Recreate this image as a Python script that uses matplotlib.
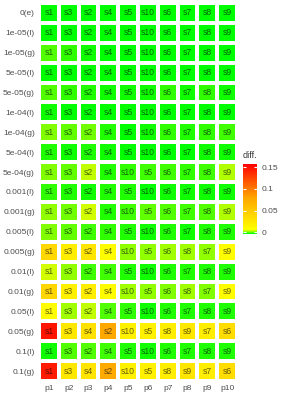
import numpy as np
import matplotlib
matplotlib.use("Agg")
import matplotlib.pyplot as plt
from matplotlib.colors import LinearSegmentedColormap, Normalize

plt.rcParams['font.family'] = ['Liberation Sans', 'DejaVu Sans']

rows = ["0(e)", "1e-05(l)", "1e-05(g)", "5e-05(l)", "5e-05(g)", "1e-04(l)", "1e-04(g)",
        "5e-04(l)", "5e-04(g)", "0.001(l)", "0.001(g)", "0.005(l)", "0.005(g)",
        "0.01(l)", "0.01(g)", "0.05(l)", "0.05(g)", "0.1(l)", "0.1(g)"]
cols = ["p1", "p2", "p3", "p4", "p5", "p6", "p7", "p8", "p9", "p10"]

base = ["s1", "s3", "s2", "s4", "s5", "s10", "s6", "s7", "s8", "s9"]
swap1 = ["s1", "s3", "s2", "s4", "s10", "s5", "s6", "s7", "s8", "s9"]
swap2 = ["s1", "s3", "s2", "s4", "s10", "s5", "s6", "s8", "s7", "s9"]
swap3 = ["s1", "s3", "s4", "s2", "s10", "s5", "s8", "s9", "s7", "s6"]
labels = [base, base, base, base, base, base, base,
          base, swap1, base, swap1, base, swap2,
          base, swap2, base, swap3, base, swap3]

# diff values, one row per setting (p1..p10)
diff = [
    [-0.0038, -0.004, -0.004, -0.004, -0.004, -0.004, -0.004, -0.004, -0.004, -0.004],
    [-0.0037, -0.004, -0.004, -0.004, -0.004, -0.004, -0.004, -0.004, -0.004, -0.004],
    [-0.0007, -0.002, -0.0033, -0.0035, -0.004, -0.004, -0.0037, -0.004, -0.0037, -0.004],
    [-0.0035, -0.004, -0.004, -0.004, -0.004, -0.004, -0.004, -0.004, -0.004, -0.004],
    [-0.0007, -0.002, -0.0027, -0.003, -0.0033, -0.0033, -0.002, -0.003, -0.002, -0.003],
    [-0.0033, -0.0035, -0.0037, -0.004, -0.004, -0.004, -0.004, -0.004, -0.004, -0.004],
    [0.0013, 0.0, 0.0007, -0.0027, -0.0037, -0.003, -0.002, -0.0027, -0.002, -0.0013],
    [-0.0027, -0.003, -0.0027, -0.0033, -0.0037, -0.004, -0.0037, -0.0037, -0.0033, -0.0033],
    [0.0013, 0.0, 0.004, -0.0027, -0.002, -0.0013, -0.0013, -0.002, -0.0013, 0.0033],
    [-0.002, -0.0027, -0.0033, -0.0027, -0.0027, -0.0037, -0.0033, -0.0033, -0.003, -0.003],
    [0.002, 0.0007, 0.0047, -0.0027, -0.0013, 0.0, -0.0007, -0.0013, -0.0007, 0.0033],
    [0.0013, 0.0, -0.0013, -0.002, -0.0027, -0.0033, -0.0027, -0.0033, -0.0027, -0.0027],
    [0.038, 0.020, 0.027, 0.008, 0.002, 0.002, 0.0027, 0.0027, 0.002, 0.007],
    [0.0047, 0.002, -0.0013, -0.0013, -0.0027, -0.0033, -0.0027, -0.0027, -0.0027, -0.0027],
    [0.039, 0.018, 0.020, 0.008, 0.0027, 0.002, 0.0013, 0.0027, 0.0013, 0.007],
    [0.007, 0.0027, 0.004, -0.0007, -0.002, -0.0033, -0.0027, -0.0027, -0.0027, -0.0027],
    [0.147, 0.025, 0.031, 0.077, 0.018, 0.018, 0.020, 0.025, 0.020, 0.034],
    [-0.0033, -0.0007, -0.0007, -0.0013, -0.0027, -0.0033, -0.0027, -0.0027, -0.0027, -0.0027],
    [0.145, 0.025, 0.028, 0.076, 0.018, 0.018, 0.020, 0.027, 0.020, 0.034],
]

vmin, vmax = -0.004, 0.157
nodes = [(-0.004, "#00FF00"), (0.006, "#FFFF00"), (0.08, "#FFA500"), (0.157, "#FF0000")]
cmap = LinearSegmentedColormap.from_list(
    "diff", [((v - vmin) / (vmax - vmin), c) for v, c in nodes])
norm = Normalize(vmin, vmax)

data = np.array(diff)

fig = plt.figure(figsize=(2.83, 3.95), dpi=100)
ax = fig.add_axes([39 / 283, 1 - 381 / 395, 198 / 283, 378 / 395])
ax.pcolormesh(np.arange(len(cols) + 1), np.arange(len(rows) + 1), data,
              cmap=cmap, norm=norm, edgecolors="white", linewidth=1.6)
ax.set_xlim(0, len(cols))
ax.set_ylim(len(rows), 0)

for i, row in enumerate(labels):
    for j, s in enumerate(row):
        ax.text(j + 0.5, i + 0.5, s, ha="center", va="center",
                fontsize=6.2, color="black", alpha=0.6)

ax.set_xticks(np.arange(len(cols)) + 0.5)
ax.set_xticklabels(cols)
ax.set_yticks(np.arange(len(rows)) + 0.5)
ax.set_yticklabels(rows)
ax.tick_params(length=0, labelsize=6, labelcolor="#4D4D4D", pad=3)
for sp in ax.spines.values():
    sp.set_visible(False)

cax = fig.add_axes([243 / 283, 1 - 234 / 395, 14 / 283, 70 / 395])
sm = plt.cm.ScalarMappable(norm=norm, cmap=cmap)
cb = fig.colorbar(sm, cax=cax, ticks=[0, 0.05, 0.1, 0.15])
cb.ax.set_yticklabels(["0", "0.05", "0.1", "0.15"])
cb.outline.set_visible(False)
cb.ax.tick_params(left=True, right=True, direction="in", color="white",
                  length=2.5, width=0.8, labelsize=6, labelcolor="#4D4D4D", pad=3)
cax.set_title("diff.", fontsize=6.5, color="#333333", loc="left", pad=4)

fig.savefig("out.png", dpi=100)
